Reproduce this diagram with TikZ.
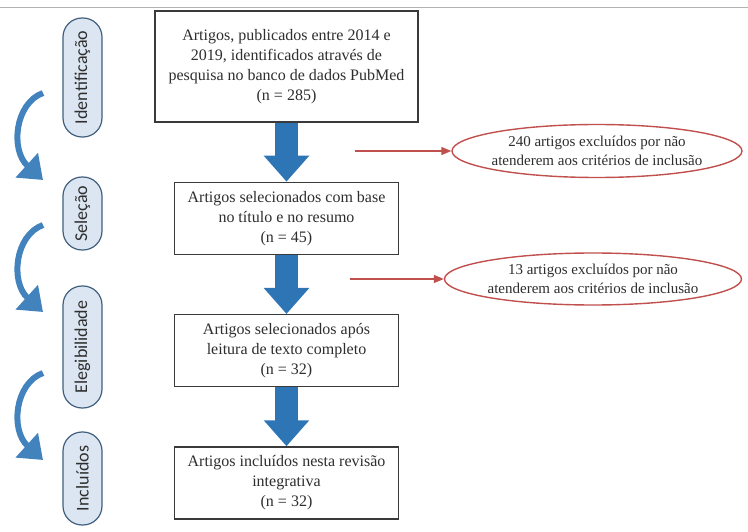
\documentclass[tikz,border=0pt]{standalone}
\usepackage{fontspec}
\setmainfont{Liberation Serif}
\newfontfamily\pillfont{Carlito}
\usepackage{xcolor}
\definecolor{FlowBlue}{HTML}{2E75B6}
\definecolor{PhaseBg}{HTML}{DCE6F2}
\definecolor{PhaseLine}{HTML}{41607E}
\definecolor{ExclRed}{HTML}{C0504D}
\definecolor{BoxLine}{HTML}{3A3A3A}
\definecolor{TextGray}{HTML}{2E2E2E}
\usepackage{tikz}
\usetikzlibrary{arrows.meta,positioning,shapes.geometric}

\begin{document}
\begin{tikzpicture}[x=1pt, y=-1pt, >=Latex, node distance=59pt,
  every node/.style={align=center, text=TextGray},
  mainbox/.style={draw=BoxLine, line width=1.3pt, fill=white, minimum width=224pt, minimum height=72pt, inner sep=4pt, font=\fontsize{16}{20}\selectfont},
  phase/.style={draw=PhaseLine, line width=1.2pt, fill=PhaseBg, rounded corners=19pt, rotate=90, minimum height=39pt, inner sep=0pt, font=\pillfont\fontsize{18}{20}\selectfont},
  excl/.style={ellipse, draw=ExclRed, line width=1.4pt, fill=white, inner xsep=-14pt, inner ysep=-3pt, font=\fontsize{15}{19}\selectfont},
  flow/.style={FlowBlue, line width=23pt, -{Triangle[length=26pt, width=44pt]}},
  phaseflow/.style={FlowBlue!90!white, line width=6pt, -{Triangle[length=22pt, width=32pt]}},
  exclflow/.style={ExclRed, line width=1.3pt, -{Triangle[length=10pt, width=8pt]}}]
  \useasboundingbox (0,0) rectangle (748,532);
  \draw[black!30, line width=0.8pt] (0,7) -- (748,7);

  % phases on the left
  \node[phase, minimum width=119pt] (idphase) at (82.5,77.5) {Identificação};
  \node[phase, minimum width=73pt] (selphase) at (82.5,213.5) {Seleção};
  \node[phase, minimum width=122pt] (elegphase) at (82.5,347) {Elegibilidade};
  \node[phase, minimum width=93pt] (inclphase) at (82.5,478.5) {Incluídos};

  \coordinate (c1s) at (43,93);  \coordinate (c1e) at (43,180);
  \coordinate (c2s) at (43,225); \coordinate (c2e) at (43,312);
  \coordinate (c3s) at (43,373); \coordinate (c3e) at (43,460);
  \foreach \i in {1,2,3}
    \draw[phaseflow] (c\i s) .. controls +(-28,10) and +(-33,-30) .. (c\i e);

  % flow boxes
  \node[mainbox, minimum width=263pt, minimum height=111pt] (idbox) at (286.5,66.5) {Artigos, publicados entre 2014 e\\2019, identificados através de\\pesquisa no banco de dados PubMed\\(n = 285)};
  \node[mainbox, below=of idbox] (selbox) {Artigos selecionados com base\\no título e no resumo\\(n = 45)};
  \node[mainbox, below=of selbox] (elegbox) {Artigos selecionados após\\leitura de texto completo\\(n = 32)};
  \node[mainbox, below=of elegbox] (inclbox) {Artigos incluídos nesta revisão\\integrativa\\(n = 32)};
  \draw[flow] (idbox) -- (selbox);
  \draw[flow] (selbox) -- (elegbox);
  \draw[flow] (elegbox) -- (inclbox);

  % exclusions
  \node[excl, minimum width=290pt, minimum height=53pt] (excl1) at (597,151) {240 artigos excluídos por não\\atenderem aos critérios de inclusão};
  \node[excl, minimum width=297pt, minimum height=52pt] (excl2) at (593,279) {13 artigos excluídos por não\\atenderem aos critérios de inclusão};
  \coordinate (x1) at (355,151);
  \coordinate (x2) at (350,279);
  \draw[exclflow] (x1) -- (excl1);
  \draw[exclflow] (x2) -- (excl2);
\end{tikzpicture}
\end{document}
